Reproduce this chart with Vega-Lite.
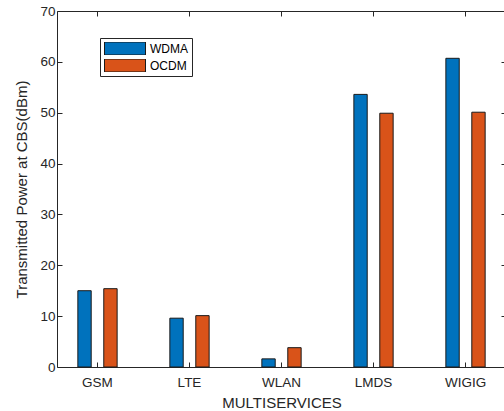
{
  "$schema": "https://vega.github.io/schema/vega-lite/v6.json",
  "autosize": "none",
  "padding": {"left": 57, "top": 11, "right": 0, "bottom": 44},
  "width": 449,
  "height": 356,
  "background": "white",
  "config": {
    "view": {"stroke": null},
    "font": "Liberation Sans",
    "axis": {
      "domainColor": "#262626",
      "tickColor": "#262626",
      "labelColor": "#262626",
      "titleColor": "#262626",
      "labelFontSize": 13.5,
      "titleFontSize": 15,
      "titleFontWeight": "normal",
      "grid": false,
      "tickSize": -5,
      "domainWidth": 1,
      "tickWidth": 1
    }
  },
  "data": {
    "values": [
      {"service": "GSM", "scheme": "WDMA", "power": 15.0},
      {"service": "GSM", "scheme": "OCDM", "power": 15.4},
      {"service": "LTE", "scheme": "WDMA", "power": 9.6},
      {"service": "LTE", "scheme": "OCDM", "power": 10.1},
      {"service": "WLAN", "scheme": "WDMA", "power": 1.6},
      {"service": "WLAN", "scheme": "OCDM", "power": 3.8},
      {"service": "LMDS", "scheme": "WDMA", "power": 53.6},
      {"service": "LMDS", "scheme": "OCDM", "power": 49.9},
      {"service": "WIGIG", "scheme": "WDMA", "power": 60.7},
      {"service": "WIGIG", "scheme": "OCDM", "power": 50.1}
    ]
  },
  "layer": [
    {
      "mark": {"type": "bar", "stroke": "#1a1a1a", "strokeWidth": 1},
      "encoding": {
        "x": {
          "field": "service", "type": "nominal",
          "sort": ["GSM", "LTE", "WLAN", "LMDS", "WIGIG"],
          "scale": {"paddingInner": 0.573, "paddingOuter": 0.2266},
          "axis": {"title": "MULTISERVICES", "labelAngle": 0, "labelPadding": 13, "titlePadding": 7, "orient": "bottom"}
        },
        "xOffset": {
          "field": "scheme", "type": "nominal",
          "sort": ["WDMA", "OCDM"],
          "scale": {"paddingInner": 0.485, "paddingOuter": 0}
        },
        "y": {
          "field": "power", "type": "quantitative",
          "scale": {"domain": [0, 70], "nice": false},
          "axis": {"title": "Transmitted Power at CBS(dBm)", "values": [0, 10, 20, 30, 40, 50, 60, 70], "labelPadding": 7, "titlePadding": 10, "orient": "left"}
        },
        "color": {
          "field": "scheme", "type": "nominal",
          "sort": ["WDMA", "OCDM"],
          "scale": {"domain": ["WDMA", "OCDM"], "range": ["#0072BD", "#D95319"]},
          "legend": {
            "title": null,
            "orient": "none",
            "legendX": 43,
            "legendY": 27,
            "padding": 4,
            "strokeColor": "#262626",
            "fillColor": "white",
            "symbolType": "M-1,-0.317H1V0.317H-1Z",
            "symbolSize": 1681,
            "symbolStrokeColor": "#1a1a1a",
            "symbolStrokeWidth": 1,
            "symbolOpacity": 1,
            "labelFontSize": 12,
            "labelColor": "#000000",
            "labelOffset": 4,
            "clipHeight": 13,
            "rowPadding": 4
          }
        }
      }
    },
    {
      "mark": {"type": "bar", "opacity": 0},
      "encoding": {
        "x": {
          "field": "service", "type": "nominal",
          "sort": ["GSM", "LTE", "WLAN", "LMDS", "WIGIG"],
          "axis": {"orient": "top", "labels": false, "title": null}
        },
        "y": {
          "field": "power", "type": "quantitative",
          "axis": {"orient": "right", "labels": false, "title": null, "values": [0, 10, 20, 30, 40, 50, 60, 70]}
        }
      }
    }
  ],
  "resolve": {"axis": {"x": "independent", "y": "independent"}}
}
